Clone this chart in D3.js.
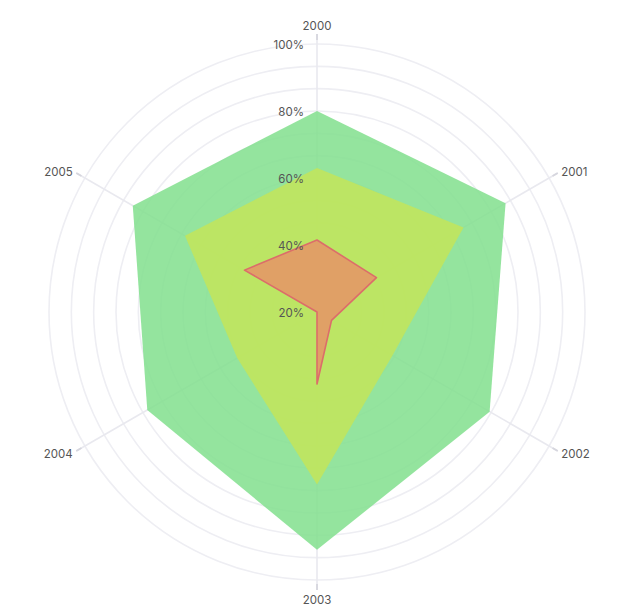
<!DOCTYPE html>
<html>
<head>
<meta charset="utf-8">
<script src="https://cdn.jsdelivr.net/npm/d3@7"></script>
<style>
	html, body { margin: 0; padding: 0; background: #fff; }
	svg { display: block; }
</style>
</head>
<body>
<div id="chart"></div>
<script>
(function(){

// years on the spokes, clockwise from the top
var years = ["2000", "2001", "2002", "2003", "2004", "2005"];

// values in percent
var seriesGreen  = [80, 85, 79.5, 91, 78.5, 83.5];
var seriesYellow = [63, 70.5, 46, 71.5, 47.5, 65.5];
var seriesOrange = [41.5, 40.5, 25, 41.5, 20, 45];

var tickLabels = [20, 40, 60, 80, 100];

var WIDTH = 633, HEIGHT = 615;
var CX = 317, CY = 312;
var RADIUS = 268;

var GRID_COLOR = "#eeeef3";
var AXIS_COLOR = "#e9e9ef";
var AXIS_END_COLOR = "#d6d6de";
var TEXT_COLOR = "#555";
var FONT = "Inter, 'Noto Sans', sans-serif";

var svg = d3.select("#chart").append("svg")
	.attr("width", WIDTH)
	.attr("height", HEIGHT);

var g = svg.append("g")
	.attr("transform", "translate(" + CX + "," + CY + ")");

var r = d3.scaleLinear().domain([20, 100]).range([0, RADIUS]);
var angle = d3.scalePoint().domain(years).range([0, 2 * Math.PI * 5 / 6]);

// grid circles, three per labelled step
var gridSteps = d3.range(1, 13).map(function(i) { return 20 + i * 20 / 3; });

g.append("g").selectAll("circle")
	.data(gridSteps)
	.enter().append("circle")
	.attr("r", function(d) { return r(d); })
	.attr("fill", "none")
	.attr("stroke", GRID_COLOR)
	.attr("stroke-width", 1.6);

// spokes
var spokes = g.append("g").selectAll("g")
	.data(years)
	.enter().append("g");

spokes.append("line")
	.attr("x1", 0).attr("y1", 0)
	.attr("x2", function(d) { return Math.sin(angle(d)) * (RADIUS + 10); })
	.attr("y2", function(d) { return -Math.cos(angle(d)) * (RADIUS + 10); })
	.attr("stroke", AXIS_COLOR)
	.attr("stroke-width", 1.6);

spokes.append("line")
	.attr("x1", function(d) { return Math.sin(angle(d)) * (RADIUS + 4); })
	.attr("y1", function(d) { return -Math.cos(angle(d)) * (RADIUS + 4); })
	.attr("x2", function(d) { return Math.sin(angle(d)) * (RADIUS + 10); })
	.attr("y2", function(d) { return -Math.cos(angle(d)) * (RADIUS + 10); })
	.attr("stroke", AXIS_END_COLOR)
	.attr("stroke-width", 1.8);

function labelRadius(d) {
	return Math.abs(Math.sin(angle(d))) < 0.1 ? RADIUS + 19 : RADIUS + 14;
}

spokes.append("text")
	.attr("x", function(d) { return Math.sin(angle(d)) * labelRadius(d); })
	.attr("y", function(d) { return -Math.cos(angle(d)) * labelRadius(d) + 2; })
	.attr("dominant-baseline", "middle")
	.attr("text-anchor", function(d) {
		var s = Math.sin(angle(d));
		if(Math.abs(s) < 0.1) return "middle";
		return s > 0 ? "start" : "end";
	})
	.attr("fill", TEXT_COLOR)
	.attr("font-family", FONT)
	.attr("font-size", "11.5px")
	.text(function(d) { return d; });

// series polygons
var line = d3.lineRadial()
	.angle(function(d, i) { return angle(years[i]); })
	.radius(function(d) { return r(Math.max(20, d)); })
	.curve(d3.curveLinearClosed);

function drawSeries(values, fill, stroke) {
	g.append("path")
		.datum(values)
		.attr("d", line)
		.attr("fill", fill)
		.attr("fill-opacity", 0.85)
		.attr("stroke", stroke || "none")
		.attr("stroke-width", stroke ? 1.6 : 0)
		.attr("stroke-linejoin", "round");
}

drawSeries(seriesGreen, "#81df8d");
drawSeries(seriesYellow, "#c3e559");
drawSeries(seriesOrange, "#e69466", "#dc6d6a");

// radial tick labels on the top spoke
g.append("g").selectAll("text")
	.data(tickLabels)
	.enter().append("text")
	.attr("x", -13)
	.attr("y", function(d) { return -r(d) + 2; })
	.attr("dominant-baseline", "middle")
	.attr("text-anchor", "end")
	.attr("fill", TEXT_COLOR)
	.attr("font-family", FONT)
	.attr("font-size", "11.5px")
	.text(function(d) { return d + "%"; });

})();
</script>
</body>
</html>
